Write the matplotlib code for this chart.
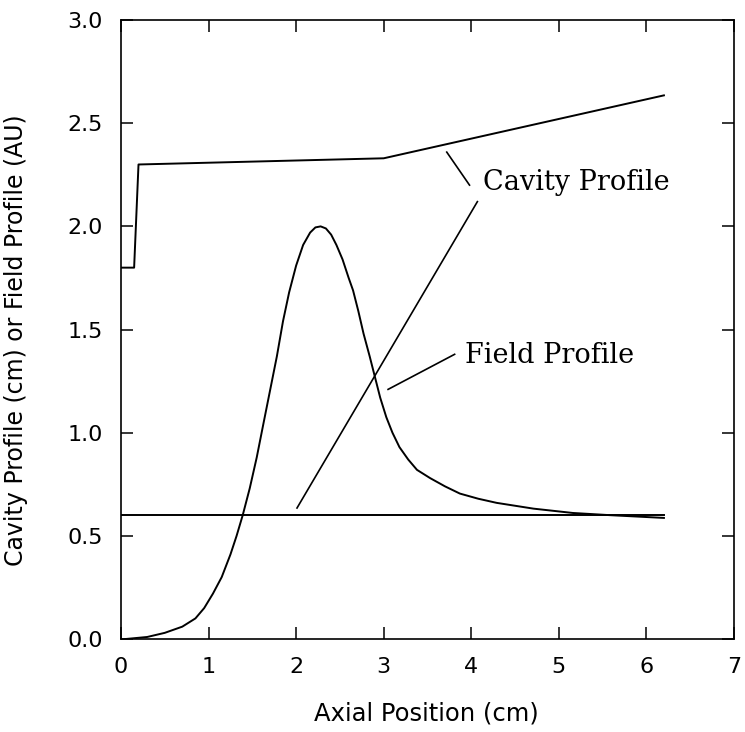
import numpy as np
import matplotlib
matplotlib.use("Agg")
import matplotlib.pyplot as plt

# cavity wall radius (cm)
cavity_x = [0.0, 0.15, 0.2, 3.0, 6.2]
cavity_y = [1.8, 1.8, 2.3, 2.33, 2.635]

# beam axis line at 0.6
axis_x = [0.0, 6.2]
axis_y = [0.6, 0.6]

# field profile (AU)
field_x = [0.05, 0.3, 0.5, 0.7, 0.85, 0.95, 1.05, 1.15, 1.25, 1.32, 1.39, 1.47, 1.55,
           1.62, 1.70, 1.78, 1.85, 1.92, 2.0, 2.08, 2.16, 2.22, 2.28, 2.34, 2.40,
           2.46, 2.53, 2.60, 2.65, 2.71, 2.77, 2.84, 2.90, 2.96, 3.03, 3.10, 3.18,
           3.28, 3.38, 3.53, 3.70, 3.87, 4.08, 4.29, 4.71, 5.16, 5.6, 6.2]
field_y = [0.0, 0.01, 0.03, 0.06, 0.10, 0.15, 0.22, 0.30, 0.41, 0.50, 0.60, 0.73, 0.88,
           1.03, 1.20, 1.37, 1.54, 1.68, 1.81, 1.91, 1.97, 1.995, 2.0, 1.99, 1.96,
           1.91, 1.84, 1.75, 1.69, 1.59, 1.48, 1.37, 1.27, 1.17, 1.075, 1.0, 0.93,
           0.87, 0.82, 0.78, 0.74, 0.705, 0.68, 0.66, 0.632, 0.611, 0.60, 0.587]

xticks = [0, 1, 2, 3, 4, 5, 6, 7]
yticks = [0.0, 0.5, 1.0, 1.5, 2.0, 2.5, 3.0]

fig = plt.figure(figsize=(7.45, 7.32), dpi=100)
ax = fig.add_axes([0.1624, 0.127, 0.8228, 0.8456])

lw = 1.4
ax.plot(cavity_x, cavity_y, color="black", lw=lw)
ax.plot(axis_x, axis_y, color="black", lw=lw)
ax.plot(field_x, field_y, color="black", lw=lw)

# leader lines for the labels
ax.plot([3.72, 3.98], [2.36, 2.20], color="black", lw=1.2)
ax.plot([2.01, 4.07], [0.635, 2.12], color="black", lw=1.2)
ax.plot([3.05, 3.81], [1.21, 1.38], color="black", lw=1.2)

ax.text(4.13, 2.175, "Cavity Profile", family="DejaVu Serif", fontsize=19.5,
        ha="left", va="baseline")
ax.text(3.93, 1.34, "Field Profile", family="DejaVu Serif", fontsize=19.5,
        ha="left", va="baseline")

ax.set_xlim(0, 7)
ax.set_ylim(0, 3)
ax.set_xticks(xticks)
ax.set_yticks(yticks)
ax.set_xticklabels([str(t) for t in xticks])
ax.set_yticklabels(["%.1f" % t for t in yticks])
ax.tick_params(direction="in", length=8.6, width=1.1, top=True, right=True,
               labelsize=16, pad=13)

for s in ax.spines.values():
    s.set_linewidth(1.2)

xl = ax.set_xlabel("Axial Position (cm)", fontsize=17.5)
yl = ax.set_ylabel("Cavity Profile (cm) or Field Profile (AU)", fontsize=17)
xl.set_va("center")
yl.set_va("center")
ax.xaxis.set_label_coords(0.499, -0.12)
ax.yaxis.set_label_coords(-0.172, 0.483)

fig.savefig("out.png", dpi=100)
